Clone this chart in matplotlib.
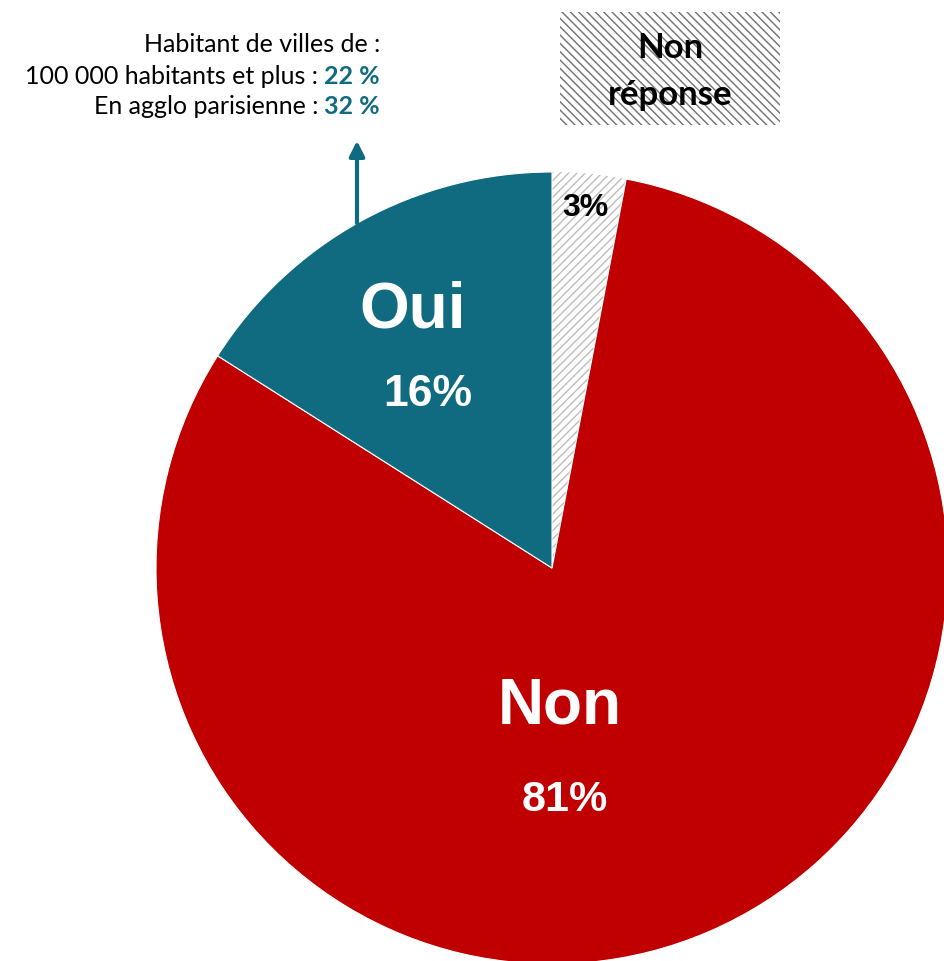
import matplotlib.pyplot as plt
from matplotlib.patches import Rectangle

plt.rcParams['font.family'] = ['Liberation Sans', 'DejaVu Sans']

# data
labels = ['Non réponse', 'Non', 'Oui']
values = [3, 81, 16]
colors = ['white', '#C00000', '#106A80']
pct_text = ['3%', '81%', '16%']
note_lines = ['Habitant de villes de :', '100 000 habitants et plus : ', 'En agglo parisienne : ']
note_values = ['', '22 %', '32 %']

W, H = 945, 961
fig = plt.figure(figsize=(W / 100, H / 100), dpi=100)
ax = fig.add_axes([0, 0, 1, 1])

cx, cy, r = 552, H - 568, 396
wedges, _ = ax.pie(values, colors=colors, startangle=90, counterclock=False,
                   center=(cx, cy), radius=r, frame=True,
                   wedgeprops=dict(edgecolor='white', linewidth=0.8))
ax.set_xlim(0, W)
ax.set_ylim(0, H)
ax.set_aspect('equal')
ax.axis('off')
wedges[0].set_hatch('////')
wedges[0].set_edgecolor('#BDBDBD')
wedges[0].set_linewidth(0)

# slice labels
ax.text(413, H - 310, labels[2], color='white', fontsize=46, fontweight='bold', ha='center', va='center')
ax.text(428, H - 395, pct_text[2], color='white', fontsize=32, fontweight='bold', ha='center', va='center')
ax.text(560, H - 706, labels[1], color='white', fontsize=46, fontweight='bold', ha='center', va='center')
ax.text(565, H - 800, pct_text[1], color='white', fontsize=31, fontweight='bold', ha='center', va='center')
ax.text(585, H - 208, pct_text[0], color='black', fontsize=23, fontweight='bold', ha='center', va='center')

# "Non réponse" box
box = Rectangle((560, H - 125), 220, 113, facecolor='white', edgecolor='#707070',
                hatch='\\\\\\\\', linewidth=0)
ax.add_patch(box)
ax.text(670, H - 48, 'Non', fontsize=25, fontweight='bold', family='Lato', ha='center', va='center')
ax.text(670, H - 95, 'réponse', fontsize=25, fontweight='bold', family='Lato', ha='center', va='center')

# note with arrow
ax.annotate('', xy=(357, H - 138), xytext=(357, H - 226),
            arrowprops=dict(arrowstyle='-|>,head_length=0.9,head_width=0.45', color='#106A80', lw=3))

fig.canvas.draw()
renderer = fig.canvas.get_renderer()
ys = [45, 76, 107]
for line, val, y in zip(note_lines, note_values, ys):
    x_right = 380
    if val:
        t = ax.text(x_right, H - y, val, fontsize=18, fontweight='bold', color='#106A80',
                    family='Lato', ha='right', va='center')
        bb = t.get_window_extent(renderer)
        x_right = bb.x0
    ax.text(x_right, H - y, line, fontsize=18, family='Lato', ha='right', va='center')

fig.savefig('out.png', dpi=100)
